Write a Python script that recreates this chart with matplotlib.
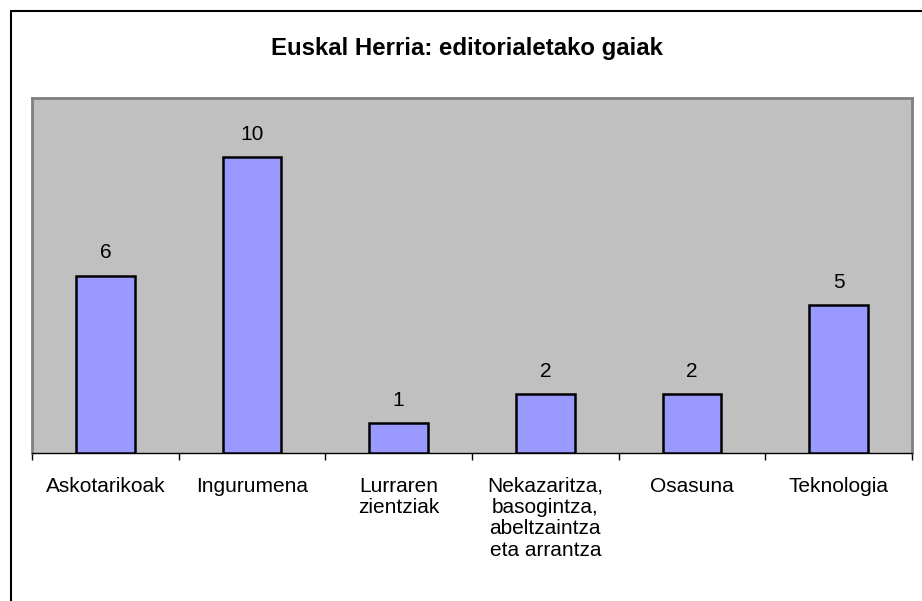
import matplotlib
matplotlib.use("Agg")
import matplotlib.pyplot as plt
from matplotlib.patches import Rectangle
import numpy as np

plt.rcParams['font.family'] = ['Liberation Sans', 'DejaVu Sans']

title = "Euskal Herria: editorialetako gaiak"
categories = ["Askotarikoak", "Ingurumena", "Lurraren\nzientziak",
              "Nekazaritza,\nbasogintza,\nabeltzaintza\neta arrantza",
              "Osasuna", "Teknologia"]
values = [6, 10, 1, 2, 2, 5]

W, H = 922, 601
fig = plt.figure(figsize=(W / 100, H / 100), dpi=100)

# outer frame
fig.patches.append(Rectangle((11 / W, -0.05), 1.1, 1 - 11 / H + 0.05,
                             transform=fig.transFigure, fill=False,
                             edgecolor='black', linewidth=1.5, clip_on=False))

left, right, top, bottom = 32, 912, 98, 453
ax = fig.add_axes([left / W, 1 - bottom / H, (right - left) / W, (bottom - top) / H])
ax.set_facecolor('#C0C0C0')

x = np.arange(len(categories))
bars = ax.bar(x, values, width=0.4, color='#9999FF', edgecolor='black', linewidth=1.8, zorder=3)
for xi, v in zip(x, values):
    ax.text(xi, v + 0.58, str(v), ha='center', va='baseline', fontsize=15, color='black')

ax.set_xlim(-0.5, len(categories) - 0.5)
ax.set_ylim(0, 12)
ax.set_yticks([])
ax.set_xticks(x)
ax.set_xticklabels(categories, fontsize=15, linespacing=1.16)
ax.tick_params(axis='x', which='major', length=0, pad=17)
ax.set_xticks(np.arange(len(categories) + 1) - 0.5, minor=True)
ax.tick_params(axis='x', which='minor', length=5, width=1, color='black', direction='out')

for s in ['top', 'left', 'right']:
    ax.spines[s].set_color('#808080')
    ax.spines[s].set_linewidth(2)
ax.spines['bottom'].set_color('black')
ax.spines['bottom'].set_linewidth(1)

fig.text(467 / W, 1 - 48 / H, title, ha='center', va='center', fontsize=17.3, fontweight='bold')

fig.savefig("out.png", dpi=100)
